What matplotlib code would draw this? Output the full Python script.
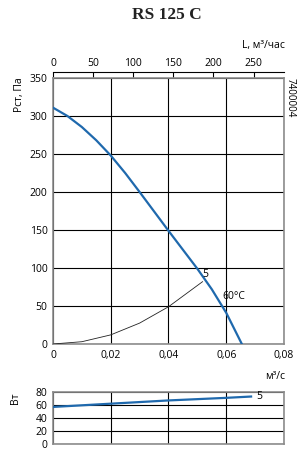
import matplotlib.pyplot as plt

# pressure curve, m3/s vs Pa
q_fan = [0, 0.005, 0.01, 0.015, 0.02, 0.025, 0.03, 0.035, 0.04, 0.045, 0.05, 0.055, 0.06, 0.0654]
p_fan = [311, 300, 285.5, 268, 248, 225, 200, 174.5, 149, 124, 99, 72, 41, 0]

# system curve 60C
q_sys = [0, 0.01, 0.02, 0.03, 0.04, 0.0518]
p_sys = [0, 3, 12, 27.5, 49, 82]

# power, W
q_pow = [0, 0.02, 0.04, 0.06, 0.0686]
w_pow = [57, 62, 67, 71, 73]

xticks = [0, 0.02, 0.04, 0.06, 0.08]
xlabels = ['0', '0,02', '0,04', '0,06', '0,08']

blue = '#1f69ad'
spine_c = '#8c8c8c'
fs = 7.5

plt.rcParams['font.family'] = ['Open Sans', 'DejaVu Sans']

fig = plt.figure(figsize=(3.01, 4.61), dpi=100)

ax = fig.add_axes([0.176, 0.2538, 0.7675, 0.577])
ax.plot(q_fan, p_fan, color=blue, lw=1.6, zorder=3, solid_joinstyle='round')
ax.plot(q_sys, p_sys, color='#222222', lw=0.6, zorder=3)
ax.set_xlim(0, 0.08)
ax.set_ylim(0, 350)
ax.set_xticks(xticks)
ax.set_xticklabels(xlabels)
ax.set_yticks(range(0, 351, 50))
ax.grid(True, color='black', lw=0.8)
ax.tick_params(length=0, labelsize=fs, pad=4)
for s in ax.spines.values():
    s.set_color(spine_c)
    s.set_linewidth(1.2)
ax.text(0.0517, 84, '5', fontsize=fs, ha='left', va='bottom')
ax.text(0.0587, 55, '60°C', fontsize=fs, ha='left', va='bottom')

top = ax.secondary_xaxis(1.0226, functions=(lambda x: x * 3600, lambda x: x / 3600))
top.set_xticks([0, 50, 100, 150, 200, 250])
top.tick_params(direction='in', length=4, width=0.8, labelsize=fs, pad=2)
top.spines['top'].set_linewidth(0.8)

ax2 = fig.add_axes([0.176, 0.0369, 0.7675, 0.1128])
ax2.plot(q_pow, w_pow, color=blue, lw=1.6, zorder=3)
ax2.set_xlim(0, 0.08)
ax2.set_ylim(0, 80)
ax2.set_xticks(xticks)
ax2.set_xticklabels([])
ax2.set_yticks(range(0, 81, 20))
ax2.grid(True, color='black', lw=0.8)
ax2.tick_params(length=0, labelsize=fs, pad=4)
for s in ax2.spines.values():
    s.set_color(spine_c)
    s.set_linewidth(1.2)
ax2.text(0.0705, 73, '5', fontsize=fs, ha='left', va='center')

fig.text(0.555, 0.985, 'RS 125 C', fontsize=12.5, fontweight='bold',
         family='Liberation Serif', ha='center', va='top', color='#222222')
fig.text(0.947, 0.902, 'L, м³/час', fontsize=fs, ha='right', va='center')
fig.text(0.947, 0.183, 'м³/с', fontsize=fs, ha='right', va='center')
fig.text(0.962, 0.831, '7400004', fontsize=7, rotation=270, ha='center', va='top')
fig.text(0.065, 0.794, 'Рст, Па', fontsize=fs, rotation=90, ha='center', va='center')
fig.text(0.05, 0.137, 'Вт', fontsize=fs, rotation=90, ha='center', va='center')

fig.savefig('out.png', dpi=100)
